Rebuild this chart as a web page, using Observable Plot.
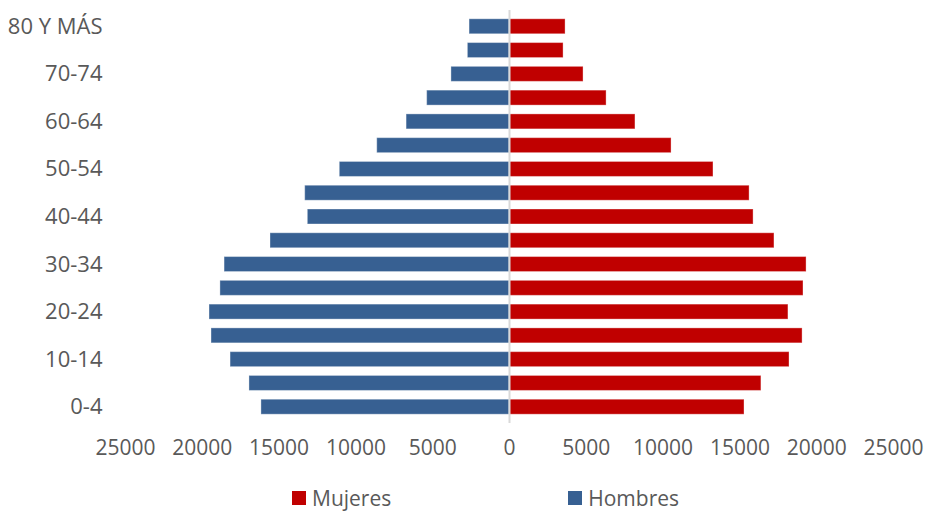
<!DOCTYPE html>
<html>
<head>
<meta charset="utf-8">
<script src="https://cdn.jsdelivr.net/npm/d3@7"></script>
<script src="https://cdn.jsdelivr.net/npm/@observablehq/plot@0.6"></script>
<style>
  body { margin: 0; background: #fff; font-family: "Open Sans", sans-serif; }
  #chart svg { display: block; }
  .legend { display: flex; align-items: center; height: 28px; padding-top: 6px; padding-left: 292px; color: #595959; font-size: 21px; line-height: 28px; font-family: "Open Sans", sans-serif; }
  .legend .item { display: flex; align-items: center; }
  .legend .sw { width: 14px; height: 14px; margin-right: 6px; }
</style>
</head>
<body>
<div id="chart"></div>
<script>
const ages = ["0-4","5-9","10-14","15-19","20-24","25-29","30-34","35-39","40-44","45-49","50-54","55-59","60-64","65-69","70-74","75-79","80 Y MÁS"];
const hombres = [16150, 16930, 18160, 19400, 19530, 18820, 18550, 15560, 13130, 13300, 11050, 8610, 6700, 5360, 3780, 2710, 2600];
const mujeres = [15300, 16400, 18230, 19080, 18160, 19140, 19340, 17250, 15890, 15630, 13280, 10550, 8200, 6320, 4820, 3520, 3650];
const xTicks = [-25000, -20000, -15000, -10000, -5000, 0, 5000, 10000, 15000, 20000, 25000];
const shownAges = ["0-4","10-14","20-24","30-34","40-44","50-54","60-64","70-74","80 Y MÁS"];
const seriesNames = ["Mujeres", "Hombres"];
const seriesColors = ["#C00000", "#376092"];

const rows = [];
ages.forEach((a, i) => {
  rows.push({age: a, sexo: "Hombres", value: -hombres[i]});
  rows.push({age: a, sexo: "Mujeres", value: mujeres[i]});
});

const plot = Plot.plot({
  width: 926,
  height: 478,
  marginLeft: 125,
  marginRight: 33,
  marginTop: 10,
  marginBottom: 55,
  style: { fontFamily: "Open Sans, sans-serif", color: "#595959", background: "#fff" },
  x: { domain: [-25000, 25000], ticks: xTicks, tickFormat: d => String(Math.abs(d)), label: null },
  y: { domain: ages.slice().reverse(), padding: 0.37, round: false, label: null },
  color: { domain: seriesNames, range: seriesColors },
  marks: [
    Plot.barX(rows, { x: "value", y: "age", fill: "sexo", stroke: "white", strokeOpacity: 0.35, strokeWidth: 1 }),
    Plot.ruleX([0], { stroke: "#D9D9D9", strokeWidth: 2 }),
    Plot.axisX({ ticks: xTicks, tickSize: 0, tickPadding: 17, fontSize: 21, tickFormat: d => String(Math.abs(d)), label: null }),
    Plot.axisY({ ticks: shownAges, tickSize: 0, tickPadding: 23, fontSize: 22, label: null })
  ]
});
document.getElementById("chart").appendChild(plot);

const legend = document.createElement("div");
legend.className = "legend";
seriesNames.forEach((name, i) => {
  const item = document.createElement("div");
  item.className = "item";
  if (i > 0) item.style.marginLeft = "177px";
  const sw = document.createElement("span");
  sw.className = "sw";
  sw.style.background = seriesColors[i];
  const t = document.createElement("span");
  t.textContent = name;
  item.appendChild(sw);
  item.appendChild(t);
  legend.appendChild(item);
});
document.body.appendChild(legend);
</script>
</body>
</html>
